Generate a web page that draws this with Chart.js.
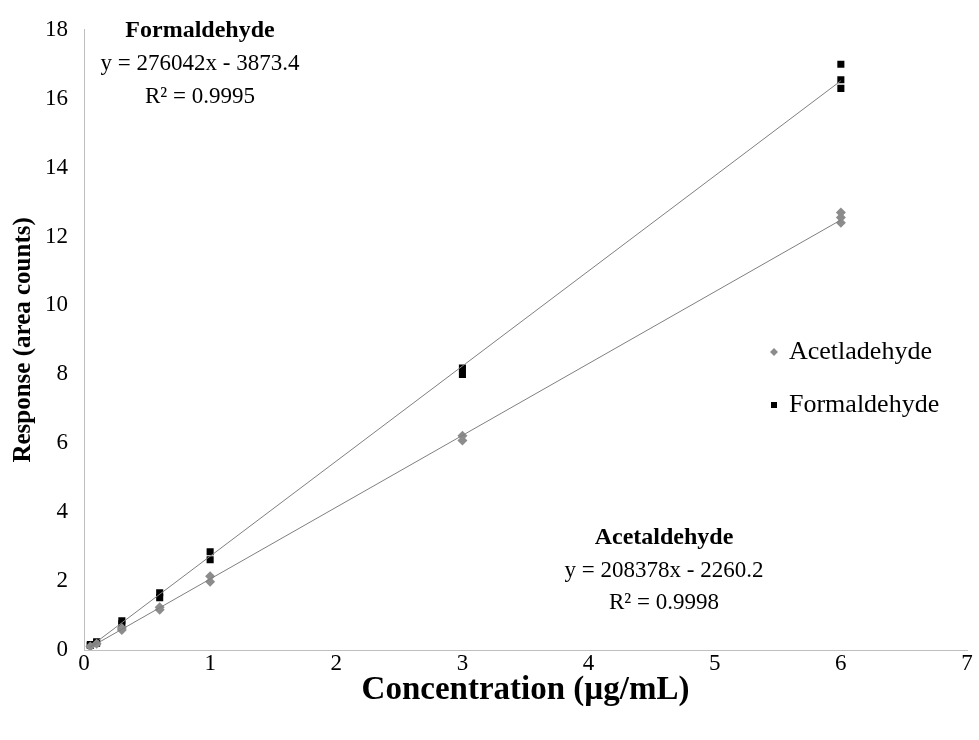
<!DOCTYPE html>
<html>
<head>
<meta charset="utf-8">
<script src="https://cdn.jsdelivr.net/npm/chart.js@4/dist/chart.umd.min.js"></script>
<style>
  html, body { margin: 0; padding: 0; background: #fff; }
</style>
</head>
<body>
<canvas id="calChart" width="979" height="740"></canvas>
<script>
// calibration points (response in 1e5 area counts)
var formX = [0.05, 0.05, 0.1, 0.1, 0.3, 0.3, 0.6, 0.6, 1, 1, 3, 3, 6, 6, 6];
var formY = [0.13, 0.16, 0.2, 0.24, 0.76, 0.85, 1.52, 1.66, 2.62, 2.85, 8.0, 8.18, 16.3, 16.55, 17.0];
var acetX = [0.05, 0.1, 0.3, 0.3, 0.6, 0.6, 1, 1, 3, 3, 6, 6, 6];
var acetY = [0.1, 0.18, 0.58, 0.64, 1.17, 1.24, 1.98, 2.14, 6.08, 6.22, 12.4, 12.55, 12.7];

// trendline ends
var formTrendX = [0.05, 6];
var formTrendY = [0.1, 16.52];
var acetTrendX = [0.05, 6];
var acetTrendY = [0.08, 12.48];

var xTicks = [0, 1, 2, 3, 4, 5, 6, 7];
var yTicks = [0, 2, 4, 6, 8, 10, 12, 14, 16, 18];

var legendLabels = ['Acetladehyde', 'Formaldehyde'];
var formNote = ['Formaldehyde', 'y = 276042x - 3873.4', 'R\u00B2 = 0.9995'];
var acetNote = ['Acetaldehyde', 'y = 208378x - 2260.2', 'R\u00B2 = 0.9998'];

var serif = "'Liberation Serif', 'DejaVu Serif', serif";

function toPoints(xs, ys) {
    return xs.map(function (x, i) { return { x: x, y: ys[i] }; });
}

// legend + equation labels
var notesPlugin = {
    id: 'notes',
    afterDraw: function (chart) {
        var c = chart.ctx;
        c.save();
        c.textBaseline = 'middle';
        c.fillStyle = '#000';

        function block(lines, cx, ys) {
            c.textAlign = 'center';
            lines.forEach(function (t, i) {
                c.font = (i === 0 ? 'bold 24px ' : '23px ') + serif;
                c.fillText(t, cx, ys[i]);
            });
        }
        block(formNote, 200, [31, 64, 97]);
        block(acetNote, 664, [538, 571, 603]);

        // legend
        var rows = [
            { ds: chart.data.datasets[2], y: 352 },
            { ds: chart.data.datasets[3], y: 405 }
        ];
        rows.forEach(function (r, i) {
            var ds = r.ds;
            c.fillStyle = ds.backgroundColor;
            c.beginPath();
            if (ds.pointStyle === 'rectRot') {
                c.moveTo(774, r.y - 4); c.lineTo(778, r.y); c.lineTo(774, r.y + 4); c.lineTo(770, r.y);
            } else {
                c.rect(771, r.y - 3, 6, 6);
            }
            c.fill();
            c.fillStyle = '#000';
            c.textAlign = 'left';
            c.font = '26px ' + serif;
            c.fillText(legendLabels[i], 789, r.y);
        });
        c.restore();
    }
};

var chart = new Chart(document.getElementById('calChart').getContext('2d'), {
    type: 'scatter',
    data: {
        datasets: [{
            label: 'Formaldehyde trend',
            data: toPoints(formTrendX, formTrendY),
            type: 'line',
            showLine: true,
            borderColor: '#7f7f7f',
            borderWidth: 1,
            pointRadius: 0,
            fill: false
        }, {
            label: 'Acetaldehyde trend',
            data: toPoints(acetTrendX, acetTrendY),
            type: 'line',
            showLine: true,
            borderColor: '#7f7f7f',
            borderWidth: 1,
            pointRadius: 0,
            fill: false
        }, {
            label: legendLabels[0],
            data: toPoints(acetX, acetY),
            pointStyle: 'rectRot',
            pointRadius: 5,
            backgroundColor: '#8c8c8c',
            borderColor: '#8c8c8c',
            borderWidth: 0
        }, {
            label: legendLabels[1],
            data: toPoints(formX, formY),
            pointStyle: 'rect',
            pointRadius: 5,
            backgroundColor: '#000',
            borderColor: '#000',
            borderWidth: 0
        }]
    },
    options: {
        responsive: false,
        animation: false,
        layout: { padding: { top: 18, right: 12, bottom: 0, left: 0 } },
        plugins: {
            legend: { display: false },
            tooltip: { enabled: false }
        },
        scales: {
            x: {
                type: 'linear',
                min: 0,
                max: 7,
                afterBuildTicks: function (s) { s.ticks = xTicks.map(function (v) { return { value: v }; }); },
                afterFit: function (s) { s.height = 90; },
                grid: { display: false, drawTicks: false },
                border: { display: true, color: '#bfbfbf', width: 1 },
                ticks: { color: '#000', padding: 0, font: { family: serif, size: 23 } },
                title: {
                    display: true,
                    text: 'Concentration (\u00B5g/mL)',
                    color: '#000',
                    font: { family: serif, size: 33, weight: 'bold' },
                    padding: { top: 30, bottom: 30 }
                }
            },
            y: {
                type: 'linear',
                min: 0,
                max: 18,
                afterBuildTicks: function (s) { s.ticks = yTicks.map(function (v) { return { value: v }; }); },
                afterFit: function (s) { s.width = 84; },
                grid: { display: false, drawTicks: false },
                border: { display: true, color: '#bfbfbf', width: 1 },
                ticks: { color: '#000', padding: 16, font: { family: serif, size: 23 } },
                title: {
                    display: true,
                    text: 'Response (area counts)',
                    color: '#000',
                    font: { family: serif, size: 25, weight: 'bold' },
                    padding: { top: 9, bottom: 9 }
                }
            }
        }
    },
    plugins: [notesPlugin]
});
</script>
</body>
</html>
